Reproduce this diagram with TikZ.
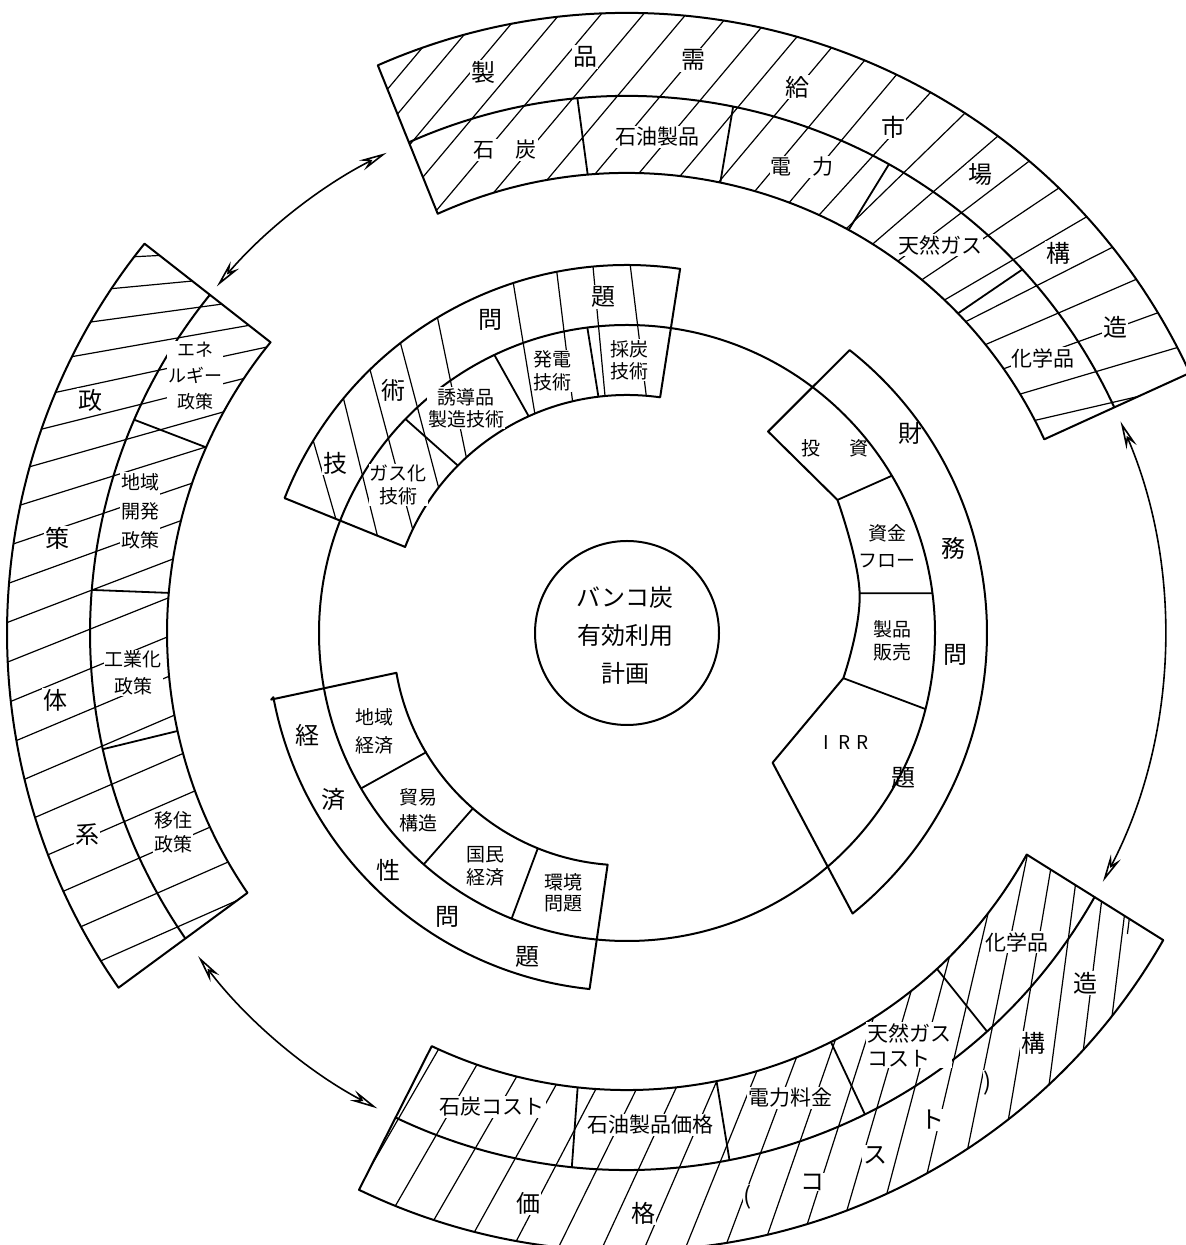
\documentclass[tikz,border=0pt]{standalone}
\usepackage{fontspec}
\newfontfamily\jp{Noto Sans CJK JP}
\usetikzlibrary{arrows.meta,calc}
\begin{document}
\begin{tikzpicture}[x=1pt,y=1pt,
  outline/.style={line width=2pt,line join=round},
  hatch/.style={line width=1.2pt},
  divider/.style={line width=1.8pt},
  bigch/.style={font=\jp\fontsize{24}{28}\selectfont,fill=white,inner sep=1pt},
  lab/.style={font=\jp\fontsize{21}{25}\selectfont,fill=white,inner sep=1pt,align=center},
  labsm/.style={font=\jp\fontsize{19}{23}\selectfont,fill=white,inner sep=1pt,align=center},
  twoway/.style={line width=1.6pt,{Stealth[open,length=28pt,width=11pt]}-{Stealth[open,length=28pt,width=11pt]}},
  toppath/.style={insert path={(114.3:460pt) -- (113.7:620pt) arc[start angle=113.7,end angle=24.8,radius=620pt] -- (24.9:460pt) arc[start angle=24.9,end angle=114.3,radius=460pt] -- cycle}},
  leftpath/.style={insert path={(140.8:460pt) -- (141.1:620pt) arc[start angle=141.1,end angle=214.9,radius=620pt] -- (214.4:460pt) arc[start angle=214.4,end angle=140.8,radius=460pt] -- cycle}},
  botpath/.style={insert path={(244.7:457pt) -- (244.3:618pt) arc[start angle=244.3,end angle=330.2,radius=618pt] -- (331:457pt) arc[start angle=331,end angle=244.7,radius=457pt] -- cycle}},
  techpath/.style={insert path={(158.8:238pt) -- (158.5:368pt) arc[start angle=158.5,end angle=81.7,radius=368pt] -- (82:238pt) arc[start angle=82,end angle=158.8,radius=238pt] -- cycle}}
]
\useasboundingbox (0,0) rectangle (1186,1245);
\begin{scope}[shift={(627,612)}]
% main circles
\draw[outline] (0,0) circle[radius=308pt];
\draw[outline] (0,0) circle[radius=92pt];

% ---------- top outer block ----------
\begin{scope}
\clip[toppath];
\gdef\curA{18}
\foreach \i in {1,...,30}{
  \pgfmathsetmacro\hphi{\curA<65 ? 8+(\curA-20)*0.93 : 50}
  \pgfmathsetmacro\hth{\hphi-\curA+90}
  \pgfmathsetmacro\hstep{34/max(sin(\hth),0.3)/537*57.2958}
  \draw[hatch] ($(\curA:537pt)+(\hphi:-300pt)$) -- ($(\curA:537pt)+(\hphi:300pt)$);
  \pgfmathsetmacro\hnew{\curA+\hstep}
  \xdef\curA{\hnew}
}
\end{scope}
\draw[outline,toppath];
\draw[outline] (114:537pt) arc[start angle=114,end angle=24.85,radius=537pt];
\draw[divider] (94.9:460pt) -- (95.3:537pt);
\draw[divider] (78.3:460pt) -- (78.6:537pt);
\draw[divider] (61.2:460pt) -- (60.8:537pt);
\draw[divider] (44:460pt) -- (42.6:537pt);

% ---------- left outer block ----------
\begin{scope}
\clip[leftpath];
\foreach \a in {120,125,...,225}{
  \pgfmathsetmacro\b{\a+6.6-0.28*(\a-180)}
  \draw[hatch] (\a:450pt) -- (\b:630pt);
}
\end{scope}
\draw[outline,leftpath];
\draw[outline] (140.95:537pt) arc[start angle=140.95,end angle=214.65,radius=537pt];
\draw[divider] (156.2:460pt) -- (156.6:537pt);
\draw[divider] (175:460pt) -- (175.4:537pt);
\draw[divider] (192.3:460pt) -- (192.5:537pt);

% ---------- bottom outer block ----------
\begin{scope}
\clip[botpath];
\gdef\curB{236}
\foreach \i in {1,...,30}{
  \pgfmathsetmacro\hphi{min(60+max(\curB-255,0)*0.32,83)}
  \pgfmathsetmacro\hth{\hphi-\curB+270}
  \pgfmathsetmacro\hstep{max(4.4,32/max(sin(\hth),0.2)/537*57.2958)}
  \draw[hatch] ($(\curB:537pt)+(\hphi:-300pt)$) -- ($(\curB:537pt)+(\hphi:300pt)$);
  \pgfmathsetmacro\hnew{\curB+\hstep}
  \xdef\curB{\hnew}
}
\end{scope}
\draw[outline,botpath];
\draw[outline] (244.5:537pt) arc[start angle=244.5,end angle=330.6,radius=537pt];
\draw[divider] (263.8:457pt) -- (264.1:537pt);
\draw[divider] (281.3:457pt) -- (281:537pt);
\draw[divider] (296.5:457pt) -- (296.3:537pt);
\draw[divider] (312.7:457pt) -- (312.1:537pt);

% ---------- arrows on the outer circle ----------
\coordinate (tlA) at (116.6:537pt);
\coordinate (tlB) at (139.8:537pt);
\draw[twoway] (tlA) arc[start angle=116.6,end angle=139.8,radius=537pt];
\coordinate (rA) at (23.2:537pt);
\coordinate (rB) at (-27.6:537pt);
\draw[twoway] (rA) arc[start angle=23.2,end angle=-27.6,radius=537pt];
\coordinate (blA) at (217:537pt);
\coordinate (blB) at (242.3:537pt);
\draw[twoway] (blA) arc[start angle=217,end angle=242.3,radius=537pt];

% ---------- technology block ----------
\begin{scope}
\clip[techpath];
\foreach \o/\m in {148.5/158.3,140.4/148.1,134.3/140,128/132.3,121/124.5,108/109.5,101/101.7,95.3/95.3,89.5/88.2}{
  \draw[hatch] ($(\o:368pt)!-0.1!(\m:314pt)$) -- ($(\o:368pt)!2.8!(\m:314pt)$);
}
\end{scope}
\draw[outline,techpath];
\draw[divider] (135.3:238pt) -- (136:308pt);
\draw[divider] (114.4:238pt) -- (115.5:308pt);
\draw[divider] (96.9:238pt) -- (97.4:308pt);

% ---------- finance block ----------
\draw[outline] (51.8:360pt) -- (55:246pt) -- (32.3:249pt)
  -- plot[smooth,tension=0.7] coordinates {(32.3:249pt) (9.7:236pt) (-11.8:221pt)}
  -- (-41.7:195pt) -- (-51.2:360pt) arc[start angle=-51.2,end angle=51.8,radius=360pt] -- cycle;
\draw[divider] (32.3:249pt) -- (30.7:308pt);
\draw[divider] (9.7:236pt) -- (7.4:308pt);
\draw[divider] (-11.8:221pt) -- (-14.3:308pt);

% ---------- economy block ----------
\draw[outline] (190.6:362pt) -- (189.8:234pt) arc[start angle=189.8,end angle=265.7,radius=232pt]
  -- (264:358pt) arc[start angle=264,end angle=190.6,radius=360pt] -- cycle;
\draw[divider] (210.7:233pt) -- (210.3:308pt);
\draw[divider] (228.7:233pt) -- (228.7:308pt);
\draw[divider] (247.5:233pt) -- (248:308pt);
\end{scope}

% ---------- labels ----------
\node[font=\jp\fontsize{24}{38}\selectfont,align=center] (plan) at (625,610) {バンコ炭\\有効利用\\計画};

% top block
\node[bigch] (t1) at (483,1173) {製};
\node[bigch] (t2) at (585,1188) {品};
\node[bigch] (t3) at (693,1185) {需};
\node[bigch] (t4) at (797,1158) {給};
\node[bigch] (t5) at (893,1118) {市};
\node[bigch] (t6) at (980,1070) {場};
\node[bigch] (t7) at (1058,992) {構};
\node[bigch] (t8) at (1115,918) {造};
\node[lab] (ti1) at (505,1095) {石　炭};
\node[lab] (ti2) at (657,1108) {石油製品};
\node[lab] (ti3) at (802,1078) {電　力};
\node[lab] (ti4) at (940,1000) {天然ガス};
\node[lab] (ti5) at (1043,887) {化学品};

% left block
\node[bigch] (l1) at (90,845) {政};
\node[bigch] (l2) at (57,707) {策};
\node[bigch] (l3) at (55,545) {体};
\node[bigch] (l4) at (87,410) {系};
\node[labsm,font=\jp\fontsize{18}{26}\selectfont] (li1) at (195,869) {エネ\\ルギー\\政策};
\node[labsm,font=\jp\fontsize{19}{29}\selectfont] (li2) at (140,734) {地域\\開発\\政策};
\node[labsm,font=\jp\fontsize{19}{27}\selectfont] (li3) at (133,572) {工業化\\政策};
\node[labsm,font=\jp\fontsize{19}{24}\selectfont] (li4) at (173,413) {移住\\政策};

% technology block
\node[bigch] (g1) at (335,782) {技};
\node[bigch] (g2) at (393,855) {術};
\node[bigch] (g3) at (490,925) {問};
\node[bigch] (g4) at (603,948) {題};
\node[labsm] (gi1) at (398,760) {ガス化\\技術};
\node[labsm,font=\jp\fontsize{19}{22}\selectfont] (gi2) at (466,837) {誘導品\\製造技術};
\node[labsm] (gi3) at (552,874) {発電\\技術};
\node[labsm,font=\jp\fontsize{19}{22}\selectfont] (gi4) at (629,885) {採炭\\技術};

% finance block
\node[bigch,fill=none] (f1) at (910,812) {財};
\node[bigch,fill=none] (f2) at (953,697) {務};
\node[bigch,fill=none] (f3) at (955,590) {問};
\node[bigch,fill=none] (f4) at (903,467) {題};
\node[labsm,fill=none] (fi1) at (835,797) {投\hspace{30pt}資};
\node[labsm,fill=none,font=\jp\fontsize{19}{27}\selectfont] (fi2) at (887,699) {資金\\フロー};
\node[labsm,fill=none] (fi3) at (892,604) {製品\\販売};
\node[labsm,fill=none] (fi4) at (846,502) {I\hspace{10pt}R\hspace{6pt}R};

% economy block
\node[bigch,fill=none] (e1) at (307,510) {経};
\node[bigch,fill=none] (e2) at (333,445) {済};
\node[bigch,fill=none] (e3) at (388,375) {性};
\node[bigch,fill=none] (e4) at (447,328) {問};
\node[bigch,fill=none] (e5) at (527,288) {題};
\node[labsm,fill=none,font=\jp\fontsize{19}{28}\selectfont] (ei1) at (374,514) {地域\\経済};
\node[labsm,fill=none,font=\jp\fontsize{19}{26}\selectfont] (ei2) at (418,435) {貿易\\構造};
\node[labsm,fill=none] (ei3) at (485,379) {国民\\経済};
\node[labsm,fill=none,font=\jp\fontsize{19}{21}\selectfont] (ei4) at (563,352) {環境\\問題};

% bottom block
\node[lab] (b1) at (492,138) {石炭コスト};
\node[lab] (b2) at (650,120) {石油製品価格};
\node[lab] (b3) at (790,147) {電力料金};
\node[lab,align=left,anchor=west] (b4) at (866,200) {天然ガス\\コスト};
\node[lab] (b5) at (1017,303) {化学品};
\node[bigch] (bo1) at (528,42) {価};
\node[bigch] (bo2) at (643,32) {格};
\node[bigch] (bo3) at (748,48) {(};
\node[bigch] (bo4) at (812,63) {コ};
\node[bigch] (bo5) at (875,90) {ス};
\node[bigch] (bo6) at (932,125) {ト};
\node[bigch] (bo7) at (988,162) {)};
\node[bigch] (bo8) at (1033,202) {構};
\node[bigch] (bo9) at (1085,262) {造};
\end{tikzpicture}
\end{document}
